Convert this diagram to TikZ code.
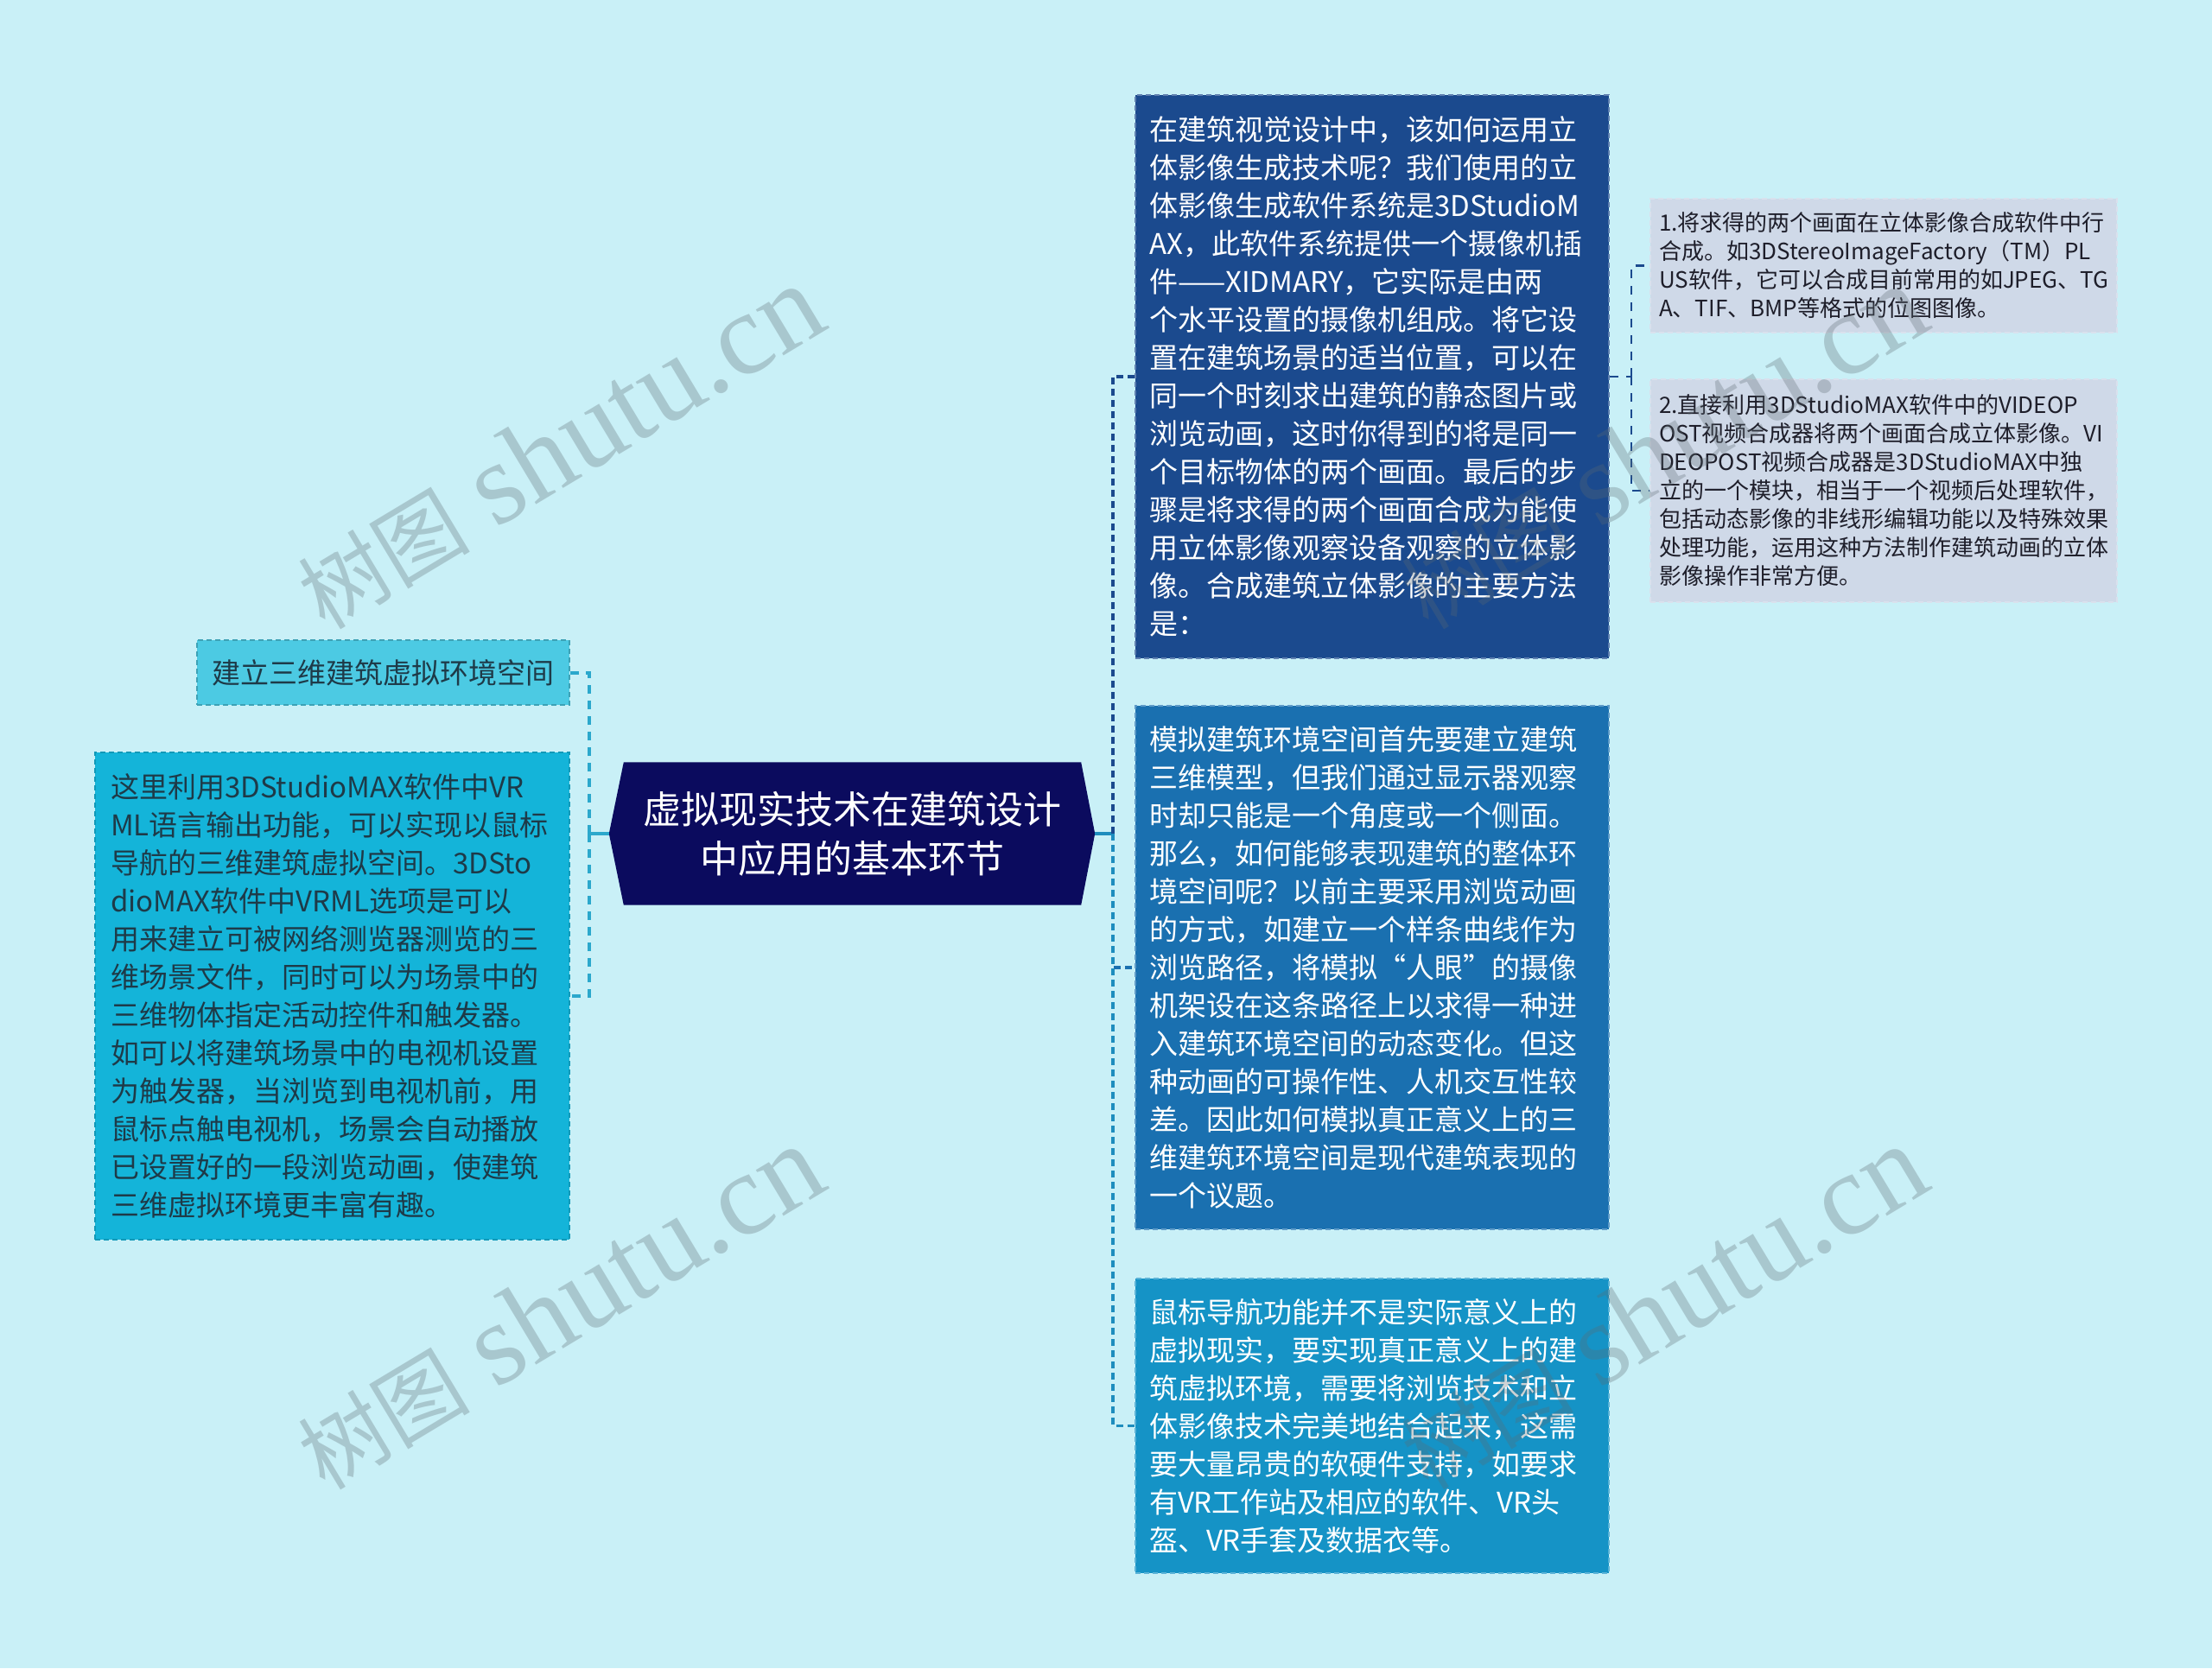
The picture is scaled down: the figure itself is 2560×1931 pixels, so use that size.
\documentclass[tikz,border=0pt]{standalone}
\usepackage{fontspec}
\setmainfont{Noto Sans CJK SC}
\newfontfamily\wmlatin{Liberation Serif}
\newfontfamily\wmcjk{Noto Sans CJK SC}
\usetikzlibrary{backgrounds}
\definecolor{pagebg}{HTML}{C9F0F7}
\definecolor{navy}{HTML}{0B0B5E}
\definecolor{rone}{HTML}{1B4A8E}
\definecolor{rtwo}{HTML}{1A70B0}
\definecolor{rthree}{HTML}{1593C6}
\definecolor{smallbg}{HTML}{CFD9E8}
\definecolor{lone}{HTML}{4CCAE3}
\definecolor{ltwo}{HTML}{14B4D9}
\definecolor{ltext}{HTML}{1E3A48}
\definecolor{stext}{HTML}{1E1E2A}
\definecolor{lline}{HTML}{2BA8CC}
\definecolor{rline}{HTML}{1E8DBE}
\definecolor{wmcol}{HTML}{5D6B72}
\begin{document}
\begin{tikzpicture}[x=1pt,y=-1pt,
  boxbase/.style={rectangle, anchor=north west, align=left, inner ysep=0pt},
  bigtext/.style={font=\fontsize{33}{44}\selectfont},
  smalltext/.style={font=\fontsize{26}{33}\selectfont},
  rboxone/.style={boxbase, bigtext, fill=rone, draw=rone!70!white, dash pattern=on 6pt off 4pt, line width=2pt, text=white, text width=516pt, inner xsep=16pt, minimum height=652pt},
  rboxtwo/.style={boxbase, bigtext, fill=rtwo, draw=rtwo!70!white, dash pattern=on 6pt off 4pt, line width=2pt, text=white, text width=516pt, inner xsep=16pt, minimum height=606pt},
  rboxthree/.style={boxbase, bigtext, fill=rthree, draw=rthree!70!white, dash pattern=on 6pt off 4pt, line width=2pt, text=white, text width=516pt, inner xsep=16pt, minimum height=341pt},
  sbox/.style={boxbase, smalltext, fill=smallbg, draw=smallbg!80!white, dash pattern=on 6pt off 4pt, line width=2pt, text=stext, text width=520pt, inner xsep=10pt},
  lboxone/.style={rectangle, anchor=north west, bigtext, fill=lone, draw=lone!80!black, dash pattern=on 6pt off 4pt, line width=2pt, text=ltext, minimum width=431pt, minimum height=75pt, inner sep=0pt},
  lboxtwo/.style={boxbase, bigtext, fill=ltwo, draw=ltwo!85!black, dash pattern=on 6pt off 4pt, line width=2pt, text=ltext, text width=513pt, inner xsep=18pt, minimum height=564pt},
  lstub/.style={draw=lline, line width=4pt},
  ledge/.style={draw=lline, line width=4pt, dash pattern=on 10pt off 8pt},
  rstub/.style={draw=rline, line width=3.5pt},
  redgeone/.style={draw=rone, line width=3.5pt, dash pattern=on 8pt off 5pt},
  redgetwo/.style={draw=rtwo, line width=3.5pt, dash pattern=on 8pt off 5pt},
  redgethree/.style={draw=rline, line width=3.5pt, dash pattern=on 8pt off 5pt},
  sedge/.style={draw=rone, line width=2.5pt, dash pattern=on 10pt off 9pt},
  wm/.style={text=wmcol, opacity=0.3, inner sep=0pt}
]
\useasboundingbox (0,0) rectangle (2560,1931);

% central node
\node[rectangle, minimum width=562pt, minimum height=165pt, inner sep=0pt, align=center, text=white,
      font=\fontsize{44}{57}\selectfont] (c) at (986,965) {虚拟现实技术在建筑设计\\中应用的基本环节};

% right boxes
\node[rboxone] (r1) at (1313,109) {在建筑视觉设计中，该如何运用立\\体影像生成技术呢？我们使用的立\\体影像生成软件系统是3DStudioM\\AX，此软件系统提供一个摄像机插\\件——XIDMARY，它实际是由两\\个水平设置的摄像机组成。将它设\\置在建筑场景的适当位置，可以在\\同一个时刻求出建筑的静态图片或\\浏览动画，这时你得到的将是同一\\个目标物体的两个画面。最后的步\\骤是将求得的两个画面合成为能使\\用立体影像观察设备观察的立体影\\像。合成建筑立体影像的主要方法\\是：};

\node[rboxtwo] (r2) at (1313,816) {模拟建筑环境空间首先要建立建筑\\三维模型，但我们通过显示器观察\\时却只能是一个角度或一个侧面。\\那么，如何能够表现建筑的整体环\\境空间呢？以前主要采用浏览动画\\的方式，如建立一个样条曲线作为\\浏览路径，将模拟“人眼”的摄像\\机架设在这条路径上以求得一种进\\入建筑环境空间的动态变化。但这\\种动画的可操作性、人机交互性较\\差。因此如何模拟真正意义上的三\\维建筑环境空间是现代建筑表现的\\一个议题。};

\node[rboxthree] (r3) at (1313,1479) {鼠标导航功能并不是实际意义上的\\虚拟现实，要实现真正意义上的建\\筑虚拟环境，需要将浏览技术和立\\体影像技术完美地结合起来，这需\\要大量昂贵的软硬件支持，如要求\\有VR工作站及相应的软件、VR头\\盔、VR手套及数据衣等。};

% small boxes
\node[sbox, minimum height=155pt] (sa) at (1909,229) {1.将求得的两个画面在立体影像合成软件中行\\合成。如3DStereoImageFactory（TM）PL\\US软件，它可以合成目前常用的如JPEG、TG\\A、TIF、BMP等格式的位图图像。};

\node[sbox, minimum height=258pt] (sb) at (1909,438) {2.直接利用3DStudioMAX软件中的VIDEOP\\OST视频合成器将两个画面合成立体影像。VI\\DEOPOST视频合成器是3DStudioMAX中独\\立的一个模块，相当于一个视频后处理软件，\\包括动态影像的非线形编辑功能以及特殊效果\\处理功能，运用这种方法制作建筑动画的立体\\影像操作非常方便。};

% left boxes
\node[lboxone] (l1) at (227,740) {建立三维建筑虚拟环境空间};

\node[lboxtwo] (l2) at (109,870) {这里利用3DStudioMAX软件中VR\\ML语言输出功能，可以实现以鼠标\\导航的三维建筑虚拟空间。3DSto\\dioMAX软件中VRML选项是可以\\用来建立可被网络测览器测览的三\\维场景文件，同时可以为场景中的\\三维物体指定活动控件和触发器。\\如可以将建筑场景中的电视机设置\\为触发器，当浏览到电视机前，用\\鼠标点触电视机，场景会自动播放\\已设置好的一段浏览动画，使建筑\\三维虚拟环境更丰富有趣。};

% background and hexagon
\begin{scope}[on background layer]
  \fill[pagebg] (0,0) rectangle (2560,1931);
  \fill[navy] (c.west) -- ([xshift=17pt]c.north west) -- ([xshift=-16pt]c.north east) -- (c.east)
     -- ([xshift=-16pt]c.south east) -- ([xshift=17pt]c.south west) -- cycle;
\end{scope}

% left connectors
\draw[lstub] (c.west) -- ++(-23,0) coordinate (lj);
\draw[ledge] (lj) |- (l1.east);
\draw[ledge] (lj) |- (l2.east);

% right connectors
\draw[rstub] (c.east) -- ++(21,0) coordinate (rj);
\draw[redgeone] (rj) |- (r1.west);
\draw[redgetwo] (rj) |- (r2.west);
\draw[redgethree] (rj) |- (r3.west);

% small connectors
\draw[sedge] (r1.east) -- ++(25,0) coordinate (sj);
\draw[sedge] (sj) |- (sa.west);
\draw[sedge] (sj) |- (sb.west);

% watermarks
\node[wm, rotate=31] (wma) at (647,518) {\wmcjk\fontsize{100}{100}\selectfont 树图\hspace{30pt}\wmlatin\fontsize{135}{135}\selectfont shutu.cn};
\node[wm, rotate=31] (wmb) at (647,1514) {\wmcjk\fontsize{100}{100}\selectfont 树图\hspace{30pt}\wmlatin\fontsize{135}{135}\selectfont shutu.cn};
\node[wm, rotate=31] (wmc) at (1924,518) {\wmcjk\fontsize{100}{100}\selectfont 树图\hspace{30pt}\wmlatin\fontsize{135}{135}\selectfont shutu.cn};
\node[wm, rotate=31] (wmd) at (1924,1514) {\wmcjk\fontsize{100}{100}\selectfont 树图\hspace{30pt}\wmlatin\fontsize{135}{135}\selectfont shutu.cn};
\end{tikzpicture}
\end{document}
